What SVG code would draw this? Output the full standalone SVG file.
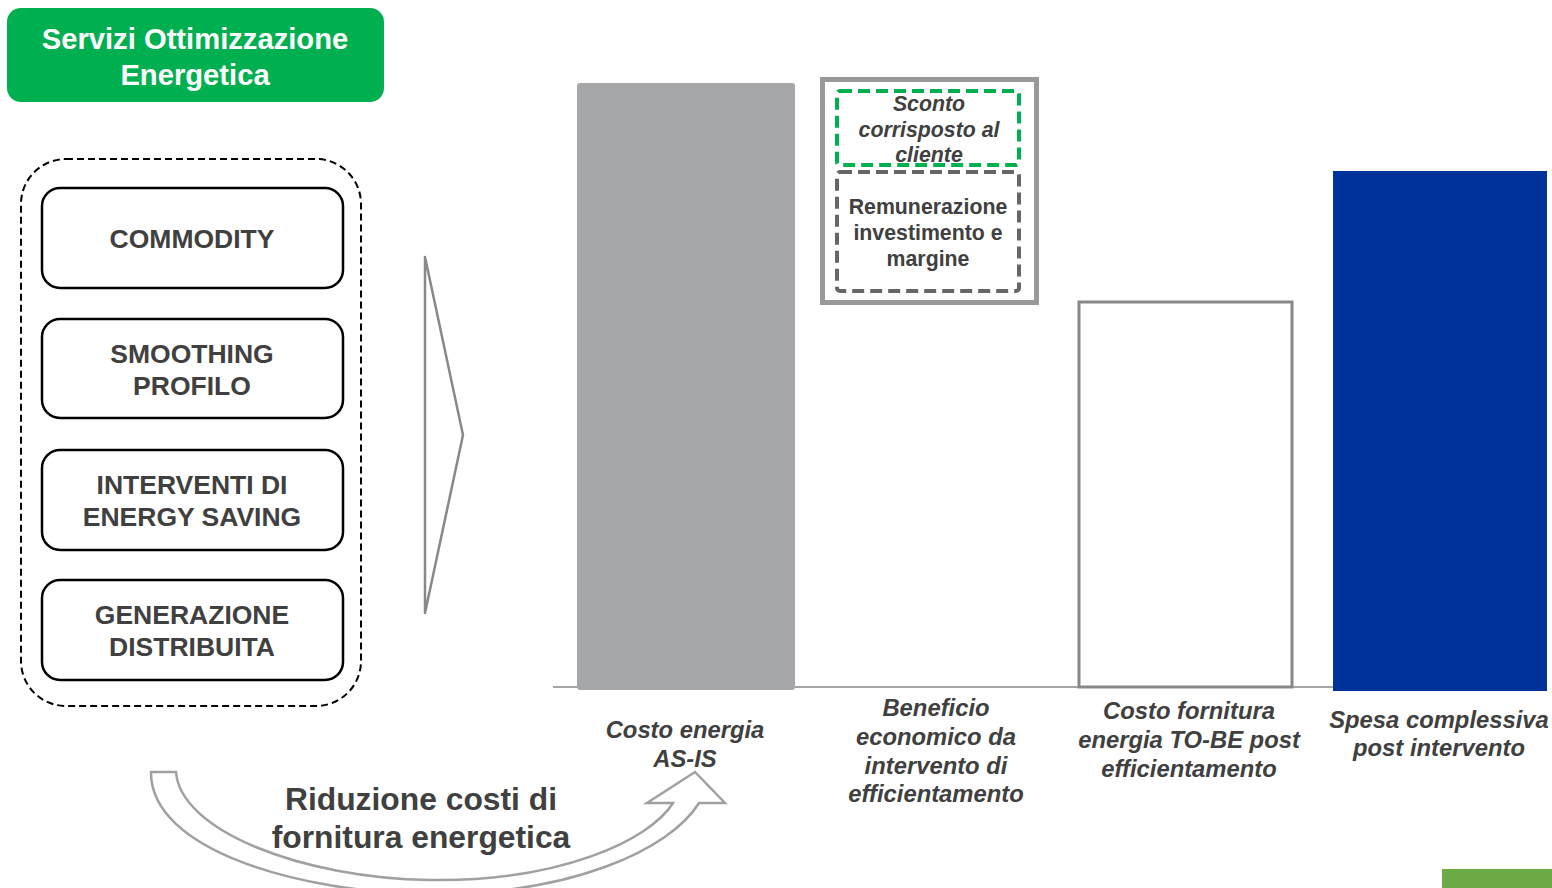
<svg xmlns="http://www.w3.org/2000/svg" width="1552" height="888" viewBox="0 0 1552 888">
<style>
.box{fill:#fff;stroke:#000;stroke-width:2.5}
.bt{font-family:"Liberation Sans",Arial,sans-serif;font-weight:bold;font-size:26.5px;fill:#404040;text-anchor:middle}
.lab{font-family:"Liberation Sans",Arial,sans-serif;font-weight:bold;font-style:italic;font-size:23.8px;fill:#404040;text-anchor:middle}
.st{font-family:"Liberation Sans",Arial,sans-serif;font-weight:bold;font-size:21.3px;fill:#404040;text-anchor:middle}
.hd{font-family:"Liberation Sans",Arial,sans-serif;font-weight:bold;font-size:29.2px;fill:#fff;text-anchor:middle}
.rd{font-family:"Liberation Sans",Arial,sans-serif;font-weight:bold;font-size:31.8px;fill:#404040;text-anchor:middle}
.gline{fill:#fff;stroke:#a0a0a0;stroke-width:2.5}
</style>
<rect width="1552" height="888" fill="#fff"/>
<g id="header">
<rect x="7" y="8" width="377" height="94" rx="14" fill="#00b050"/>
<text class="hd" x="195" y="49">Servizi Ottimizzazione</text>
<text class="hd" x="195" y="85">Energetica</text>
</g>
<g id="services">
<rect x="21" y="159" width="340" height="547" rx="45" fill="none" stroke="#000" stroke-width="2" stroke-dasharray="7,4"/>
<g id="commodity"><rect class="box" x="42" y="188" width="301" height="100" rx="18"/><text class="bt" x="192" y="248">COMMODITY</text></g>
<g id="smoothing"><rect class="box" x="42" y="319" width="301" height="99" rx="18"/><text class="bt" x="192" y="363">SMOOTHING</text><text class="bt" x="192" y="395">PROFILO</text></g>
<g id="energysaving"><rect class="box" x="42" y="450" width="301" height="100" rx="18"/><text class="bt" x="192" y="494">INTERVENTI DI</text><text class="bt" x="192" y="526">ENERGY SAVING</text></g>
<g id="generazione"><rect class="box" x="42" y="580" width="301" height="100" rx="18"/><text class="bt" x="192" y="624">GENERAZIONE</text><text class="bt" x="192" y="656">DISTRIBUITA</text></g>
</g>
<g id="chevron">
<polygon points="425,257 463,435 425,613" fill="#fff" stroke="#888" stroke-width="2.5" stroke-linejoin="round"/>
</g>
<g id="connectors">
<line x1="553" y1="687" x2="1333" y2="687" stroke="#888" stroke-width="1.5"/>
<path class="gline" d="M151,772 L176,772 C180,830 300,878 430,880 C560,882 650,840 673,803 L647,803 L695,772 L725,803 L699,803 C670,850 570,895 430,894 C300,893 150,850 151,772 Z"/>
</g>
<g id="bar-asis">
<rect x="577" y="83" width="218" height="607" rx="3" fill="#a6a7a9"/>
</g>
<g id="beneficio">
<rect x="822.5" y="79.5" width="214" height="223" fill="#fff" stroke="#999" stroke-width="5"/>
<rect x="837" y="91" width="182" height="74" rx="3" fill="none" stroke="#00b050" stroke-width="4" stroke-dasharray="12,6"/>
<rect x="837" y="172" width="182" height="119" rx="3" fill="none" stroke="#666" stroke-width="4" stroke-dasharray="12,6"/>
<text class="st" font-style="italic" x="929" y="111">Sconto</text>
<text class="st" font-style="italic" x="929" y="137">corrisposto al</text>
<text class="st" font-style="italic" x="929" y="162">cliente</text>
<text class="st" x="928" y="214">Remunerazione</text>
<text class="st" x="928" y="240">investimento e</text>
<text class="st" x="928" y="266">margine</text>
</g>
<g id="bar-tobe">
<rect x="1079" y="302" width="213" height="385" fill="#fff" stroke="#888" stroke-width="3"/>
</g>
<g id="bar-spesa">
<rect x="1333" y="171" width="214" height="520" fill="#003399"/>
</g>
<g id="labels">
<text class="lab" x="685" y="738">Costo energia</text>
<text class="lab" x="685" y="767">AS-IS</text>
<text class="lab" x="936" y="716">Beneficio</text>
<text class="lab" x="936" y="745">economico da</text>
<text class="lab" x="936" y="774">intervento di</text>
<text class="lab" x="936" y="802">efficientamento</text>
<text class="lab" x="1189" y="719">Costo fornitura</text>
<text class="lab" x="1189" y="748">energia TO-BE post</text>
<text class="lab" x="1189" y="777">efficientamento</text>
<text class="lab" x="1439" y="728">Spesa complessiva</text>
<text class="lab" x="1439" y="756">post intervento</text>
</g>
<g id="riduzione">
<text class="rd" x="421" y="810">Riduzione costi di</text>
<text class="rd" x="421" y="848">fornitura energetica</text>
</g>
<rect x="1442" y="869" width="110" height="19" fill="#6aab46"/>
</svg>
